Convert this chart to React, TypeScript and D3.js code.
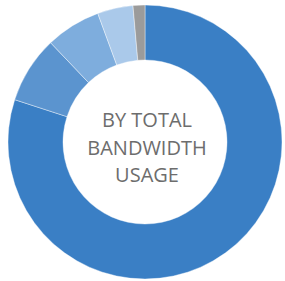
import * as d3 from "d3";

// slices clockwise from 12 o'clock
const labels = ["A", "B", "C", "D", "Other"];
const values = [80, 7.9, 6.5, 4.2, 1.4];
const colors = ["#3a7fc5", "#5b94cf", "#7eaddd", "#aac9ea", "#9b9b9b"];
const titleLines = ["BY TOTAL", "BANDWIDTH", "USAGE"];

export default function App() {
  const width = 285;
  const height = 281;
  const cx = 145;
  const cy = 142;
  const outerR = 137;
  const innerR = 82;

  const pie = d3
    .pie<number>()
    .sort(null)
    .value((d) => d)(values);

  const arc = d3
    .arc<d3.PieArcDatum<number>>()
    .innerRadius(innerR)
    .outerRadius(outerR);

  return (
    <div style={{ position: "absolute", left: 0, top: 0 }}>
      <svg width={width} height={height} style={{ display: "block" }}>
        <rect width={width} height={height} fill="#fff" />
        <g transform={`translate(${cx},${cy})`}>
          {pie.map((d, i) => (
            <path
              key={labels[i]}
              d={arc(d) || ""}
              fill={colors[i]}
              stroke="#fff"
              strokeWidth={0.4}
            />
          ))}
          <text
            textAnchor="middle"
            fontFamily="'Open Sans', sans-serif"
            fontSize="20px"
            fill="#6d6d6d"
          >
            {titleLines.map((t, i) => (
              <tspan key={t} x={2} y={-15 + i * 27.5}>
                {t}
              </tspan>
            ))}
          </text>
        </g>
      </svg>
    </div>
  );
}
